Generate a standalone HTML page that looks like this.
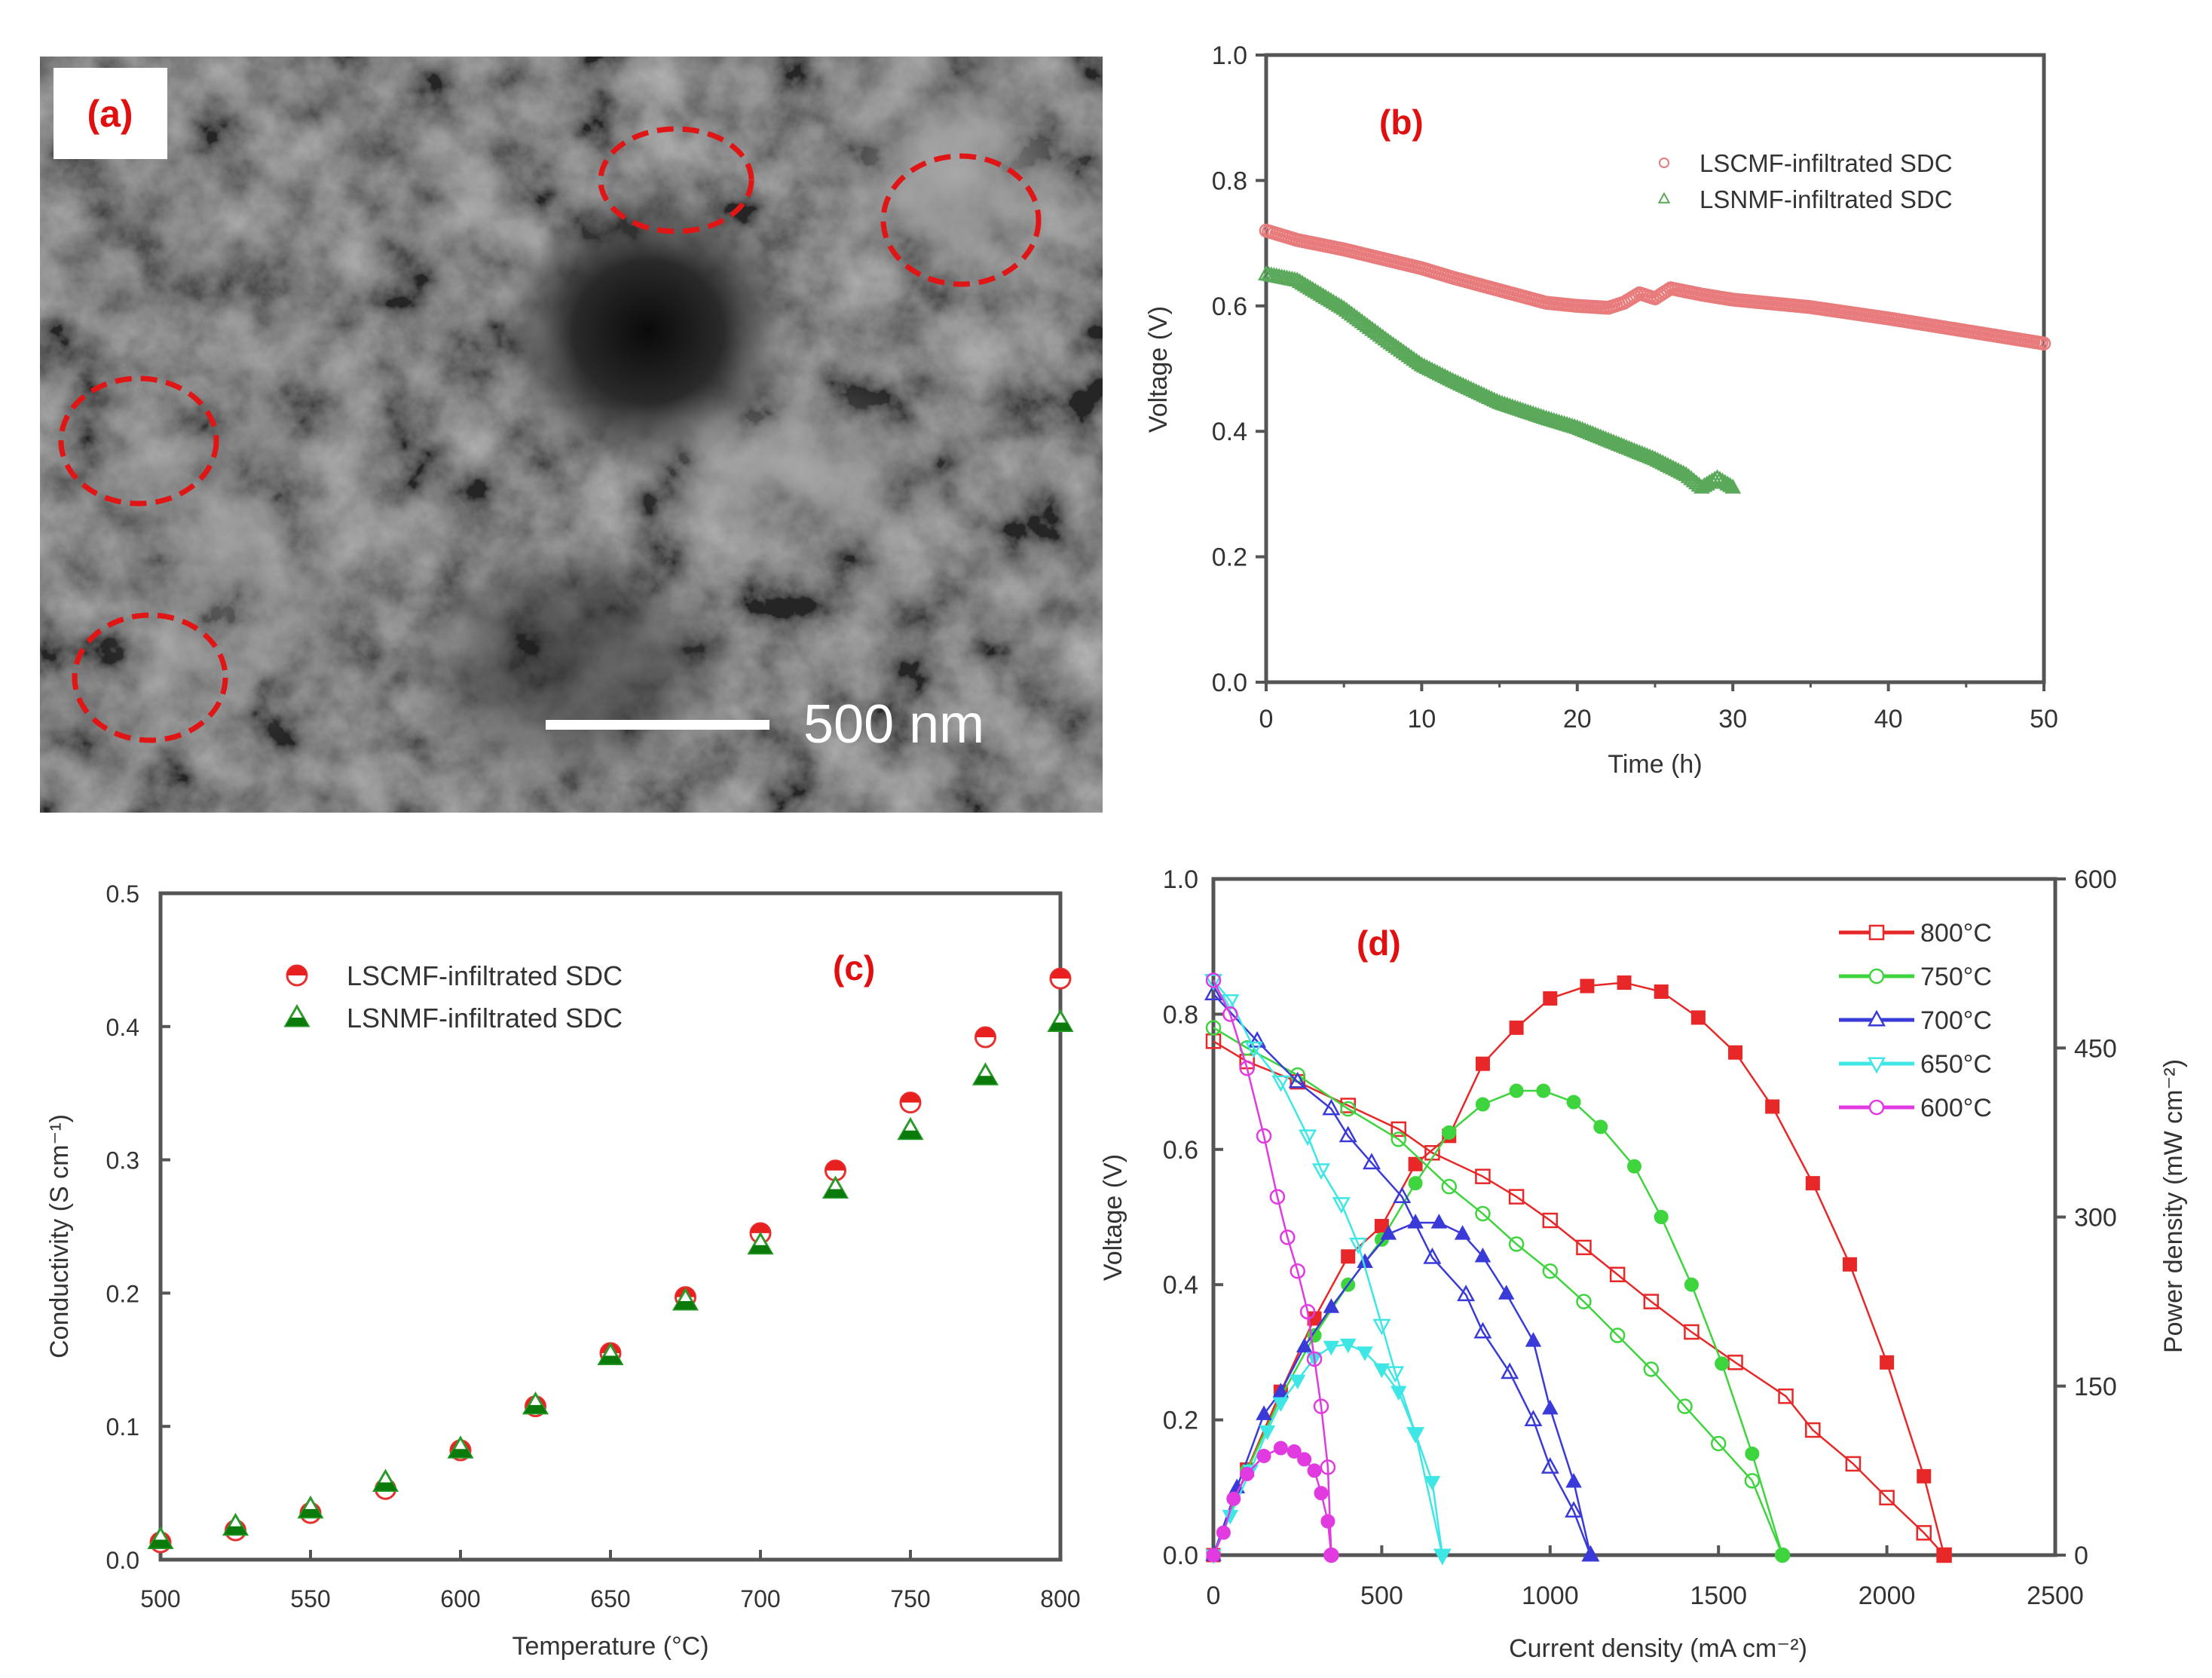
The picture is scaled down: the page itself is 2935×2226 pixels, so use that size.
<!DOCTYPE html>
<html><head><meta charset="utf-8"><style>
html,body{margin:0;padding:0;background:#fff}
svg{display:block;font-family:"Liberation Sans",Arial,sans-serif}
</style></head><body>
<svg id="fig" width="2935" height="2226" viewBox="0 0 2935 2226" xmlns="http://www.w3.org/2000/svg">
<defs>
<radialGradient id="hole" cx="0.5" cy="0.5" r="0.5"><stop offset="0" stop-color="#0a0a0a"/><stop offset="0.5" stop-color="#2a2a2a"/><stop offset="1" stop-color="#555" stop-opacity="0"/></radialGradient>
<radialGradient id="lite" cx="0.5" cy="0.5" r="0.5"><stop offset="0" stop-color="#a8a8a8"/><stop offset="1" stop-color="#999" stop-opacity="0"/></radialGradient>
<filter id="noise"><feTurbulence type="fractalNoise" baseFrequency="0.012" numOctaves="5" seed="7"/><feColorMatrix type="matrix" values="1.2 0 0 0 -0.28  1.2 0 0 0 -0.28  1.2 0 0 0 -0.28  0 0 0 0 1"/></filter>
<clipPath id="semclip"><rect x="53" y="75" width="1410" height="1003"/></clipPath>
</defs>
<g clip-path="url(#semclip)">
<rect x="53" y="75" width="1410" height="1003" fill="#5e5e5e"/>
<rect x="53" y="75" width="1410" height="1003" filter="url(#noise)" opacity="0.6"/>
<ellipse cx="860" cy="440" rx="200" ry="190" fill="url(#hole)"/>
<ellipse cx="760" cy="880" rx="230" ry="170" fill="url(#hole)" opacity="0.45"/>
<ellipse cx="1270" cy="230" rx="200" ry="160" fill="url(#lite)"/>
<ellipse cx="1050" cy="620" rx="220" ry="130" fill="url(#lite)" opacity="0.7"/>
<ellipse cx="300" cy="750" rx="180" ry="260" fill="url(#lite)" opacity="0.5"/>
</g>
<g><rect x="71" y="90" width="151" height="121" fill="#fff"/><text x="146" y="168" text-anchor="middle" font-size="50" font-weight="bold" fill="#e01010">(a)</text></g>
<g fill="none" stroke="#e01515" stroke-width="7" stroke-dasharray="22,12">
<ellipse cx="897" cy="239" rx="100" ry="68"/><ellipse cx="1275" cy="292" rx="103" ry="85"/><ellipse cx="184" cy="585" rx="103" ry="83"/><ellipse cx="199" cy="899" rx="100" ry="83"/>
</g>
<g><rect x="724" y="955" width="297" height="13" fill="#fff"/><text x="1066" y="985" font-size="72" fill="#fff">500 nm</text></g>
</svg>
<script>
// ---------- Panel (b) data ----------
const bTime = [0,2,5,8,10,12,15,18,20,22,23,24,25,26,28,30,35,40,45,50];
const bLSCMF = [0.72,0.705,0.69,0.672,0.66,0.645,0.625,0.605,0.6,0.597,0.605,0.62,0.612,0.628,0.618,0.61,0.598,0.58,0.56,0.54];
const bTime2 = [0,2,5,8,10,12,15,18,20,22,25,27,28,29,30];
const bLSNMF = [0.65,0.64,0.595,0.54,0.505,0.48,0.445,0.42,0.405,0.385,0.355,0.33,0.31,0.325,0.31];
const bXTicks = [0,10,20,30,40,50];
const bYTicks = [0.0,0.2,0.4,0.6,0.8,1.0];
// ---------- Panel (c) data ----------
const cTemp = [500,525,550,575,600,625,650,675,700,725,750,775,800];
const cLSCMF = [0.013,0.022,0.035,0.053,0.082,0.115,0.155,0.197,0.245,0.292,0.343,0.392,0.436];
const cLSNMF = [0.015,0.025,0.038,0.058,0.083,0.116,0.153,0.194,0.236,0.278,0.322,0.363,0.403];
const cXTicks = [500,550,600,650,700,750,800];
const cYTicks = [0.0,0.1,0.2,0.3,0.4,0.5];
// ---------- Panel (d) data ----------
const dNames = ['800°C','750°C','700°C','650°C','600°C'];
const dV_I = [
 [0,100,250,400,550,650,800,900,1000,1100,1200,1300,1420,1550,1700,1780,1900,2000,2110,2170],
 [0,100,250,400,550,700,800,900,1000,1100,1200,1300,1400,1500,1600,1690],
 [0,130,250,350,400,470,560,650,750,800,880,950,1000,1070,1120],
 [0,50,120,200,280,320,380,430,500,540,600,680],
 [0,50,100,150,190,220,250,280,300,320,340,350]];
const dV = [
 [0.76,0.73,0.70,0.665,0.63,0.595,0.56,0.53,0.495,0.455,0.415,0.375,0.33,0.285,0.235,0.185,0.135,0.085,0.033,0],
 [0.78,0.75,0.71,0.66,0.615,0.545,0.505,0.46,0.42,0.375,0.325,0.275,0.22,0.165,0.11,0],
 [0.83,0.76,0.70,0.66,0.62,0.58,0.53,0.44,0.385,0.33,0.27,0.2,0.13,0.065,0],
 [0.85,0.82,0.75,0.70,0.62,0.57,0.52,0.46,0.34,0.27,0.18,0],
 [0.85,0.80,0.72,0.62,0.53,0.47,0.42,0.36,0.29,0.22,0.13,0]];
const dP_I = [
 [0,100,200,300,400,500,600,700,800,900,1000,1110,1220,1330,1440,1550,1660,1780,1890,2000,2110,2170],
 [0,100,200,300,400,500,600,700,800,900,980,1070,1150,1250,1330,1420,1510,1600,1690],
 [0,70,150,200,270,350,450,520,600,670,740,800,870,950,1000,1070,1120],
 [0,50,110,160,200,250,300,350,400,450,500,550,600,650,680],
 [0,30,60,100,150,200,240,270,300,320,340,350]];
const dP = [
 [0,76,145,210,265,292,347,372,436,468,494,505,508,500,477,446,398,330,258,171,70,0],
 [0,75,140,195,240,280,330,375,400,412,412,402,380,345,300,240,170,90,0],
 [0,60,125,145,185,220,260,285,295,295,285,265,232,190,130,65,0],
 [0,35,75,110,135,155,175,185,187,180,165,145,108,65,0],
 [0,20,50,72,88,95,92,85,75,55,30,0]];
const dXTicks = [0,500,1000,1500,2000,2500];
const dYTicks = [0.0,0.2,0.4,0.6,0.8,1.0];
const dY2Ticks = [0,150,300,450,600];

const NS='http://www.w3.org/2000/svg';
const svg=document.getElementById('fig');
function mk(tag,attrs,parent){const e=document.createElementNS(NS,tag);for(const k in attrs)e.setAttribute(k,attrs[k]);(parent||svg).appendChild(e);return e;}
function txt(x,y,s,size,parent,extra){const t=mk('text',Object.assign({x:x,y:y,'font-size':size,fill:'#333'},extra||{}),parent);t.textContent=s;return t;}
function lin(d0,d1,p0,p1){return v=>p0+(v-d0)/(d1-d0)*(p1-p0);}
function marker(g,shape,x,y,r,color,fill,sw){
 let e;
 if(shape==='circle') e=mk('circle',{cx:x,cy:y,r:r},g);
 else if(shape==='square') e=mk('rect',{x:x-r,y:y-r,width:2*r,height:2*r},g);
 else if(shape==='up') e=mk('polygon',{points:`${x},${y-r*1.2} ${x-r*1.1},${y+r*0.8} ${x+r*1.1},${y+r*0.8}`},g);
 else if(shape==='down') e=mk('polygon',{points:`${x},${y+r*1.2} ${x-r*1.1},${y-r*0.8} ${x+r*1.1},${y-r*0.8}`},g);
 e.setAttribute('fill',fill);e.setAttribute('stroke',color);e.setAttribute('stroke-width',sw||2.5);
 return e;
}
function frame(g,x0,y0,x1,y1){mk('rect',{x:x0,y:y0,width:x1-x0,height:y1-y0,fill:'none',stroke:'#555','stroke-width':5},g);}

// ===== Panel b =====
(function(){
 const g=mk('g',{});
 
 
 const X=lin(0,50,1680,2712), Y=lin(0,1,905,73);
 frame(g,1680,73,2712,905);
 bXTicks.forEach(v=>{mk('line',{x1:X(v),x2:X(v),y1:905,y2:917,stroke:'#555','stroke-width':4},g);
  const t=txt(X(v),965,String(v),34,g,{'text-anchor':'middle'});});
 for(let v=5;v<50;v+=10) mk('line',{x1:X(v),x2:X(v),y1:905,y2:912,stroke:'#555','stroke-width':3},g);
 bYTicks.forEach(v=>{mk('line',{x1:1666,x2:1680,y1:Y(v),y2:Y(v),stroke:'#555','stroke-width':4},g);
  const t=txt(1655,Y(v)+12,v.toFixed(1),34,g,{'text-anchor':'end'});});
 const xt=txt(2196,1025,'Time (h)',34,g,{'text-anchor':'middle'});
 
 const yt=txt(0,0,'Voltage (V)',34,g,{'text-anchor':'middle',transform:'translate(1548,490) rotate(-90)'});
 
 const lb=txt(1830,178,'(b)',46,g,{fill:'#e01010','font-weight':'bold'});
 
 function series(xs,ys,color,shape,name){
  const s=mk('g',{},g);
  
  
  for(let i=0;i<xs.length-1;i++){
   const n=Math.max(2,Math.round((xs[i+1]-xs[i])*6));
   for(let k=0;k<n;k++){const f=k/n;const x=xs[i]+f*(xs[i+1]-xs[i]);const y=ys[i]+f*(ys[i+1]-ys[i]);
    marker(s,shape,X(x),Y(y),8,color,'none',2.5);}
  }
  marker(s,shape,X(xs[xs.length-1]),Y(ys[ys.length-1]),8,color,'none',2.5);
 }
 series(bTime,bLSCMF,'#e87b7b','circle','series-lscmf');
 series(bTime2,bLSNMF,'#5aa85a','up','series-lsnmf');
 const lg=mk('g',{},g);
 
 
 marker(lg,'circle',2208,216,6,'#e87b7b','none',2);
 txt(2255,228,'LSCMF-infiltrated SDC',33,lg);
 marker(lg,'up',2208,264,6,'#5aa85a','none',2);
 txt(2255,276,'LSNMF-infiltrated SDC',33,lg);
})();

// ===== Panel c =====
(function(){
 const g=mk('g',{});
 
 
 const X=lin(500,800,213,1407), Y=lin(0,0.5,2069,1185);
 frame(g,213,1185,1407,2069);
 cXTicks.forEach(v=>{mk('line',{x1:X(v),x2:X(v),y1:2069,y2:2056,stroke:'#555','stroke-width':4},g);
  const t=txt(X(v),2132,String(v),32,g,{'text-anchor':'middle'});});
 cYTicks.forEach(v=>{mk('line',{x1:213,x2:226,y1:Y(v),y2:Y(v),stroke:'#555','stroke-width':4},g);
  const t=txt(185,Y(v)+12,v.toFixed(1),32,g,{'text-anchor':'end'});});
 const xt=txt(810,2195,'Temperature (°C)',34,g,{'text-anchor':'middle'});
 
 const yt=txt(0,0,'Conductivity (S cm⁻¹)',34,g,{'text-anchor':'middle',transform:'translate(90,1640) rotate(-90)'});
 
 const lb=txt(1105,1300,'(c)',46,g,{fill:'#e01010','font-weight':'bold'});
 
 function halfCircle(p,x,y){
  const c=mk('circle',{cx:x,cy:y,r:13,fill:'#fff',stroke:'#e83030','stroke-width':3},p);
  mk('path',{d:`M${x-13},${y} A13,13 0 0 1 ${x+13},${y} Z`,fill:'#e82020'},p);return c;}
 function halfTri(p,x,y){
  mk('polygon',{points:`${x},${y-15} ${x-15},${y+11} ${x+15},${y+11}`,fill:'#fff',stroke:'#2a9a2a','stroke-width':3},p);
  mk('polygon',{points:`${x-9},${y} ${x+9},${y} ${x+15},${y+11} ${x-15},${y+11}`,fill:'#0a7a0a'},p);}
 const s1=mk('g',{},g);
 
 
 cTemp.forEach((t,i)=>halfCircle(s1,X(t),Y(cLSCMF[i])));
 const s2=mk('g',{},g);
 
 
 cTemp.forEach((t,i)=>halfTri(s2,X(t),Y(cLSNMF[i])));
 const lg=mk('g',{},g);
 
 
 halfCircle(lg,394,1294);
 txt(460,1307,'LSCMF-infiltrated SDC',36,lg);
 halfTri(lg,394,1350);
 txt(460,1363,'LSNMF-infiltrated SDC',36,lg);
})();

// ===== Panel d =====
(function(){
 const g=mk('g',{});
 
 
 const X=lin(0,2500,1610,2727), Y=lin(0,1,2063,1166), Y2=lin(0,600,2063,1166);
 frame(g,1610,1166,2727,2063);
 dXTicks.forEach(v=>{mk('line',{x1:X(v),x2:X(v),y1:2063,y2:2050,stroke:'#555','stroke-width':4},g);
  const t=txt(X(v),2128,String(v),34,g,{'text-anchor':'middle'});});
 dYTicks.forEach(v=>{mk('line',{x1:1610,x2:1623,y1:Y(v),y2:Y(v),stroke:'#555','stroke-width':4},g);
  const t=txt(1590,Y(v)+12,v.toFixed(1),34,g,{'text-anchor':'end'});});
 dY2Ticks.forEach(v=>{mk('line',{x1:2727,x2:2741,y1:Y2(v),y2:Y2(v),stroke:'#555','stroke-width':4},g);
  const t=txt(2752,Y2(v)+12,String(v),34,g,{'text-anchor':'start'});});
 const xt=txt(2200,2198,'Current density (mA cm⁻²)',34,g,{'text-anchor':'middle'});
 
 const yt=txt(0,0,'Voltage (V)',34,g,{'text-anchor':'middle',transform:'translate(1488,1615) rotate(-90)'});
 
 const y2t=txt(0,0,'Power density (mW cm⁻²)',34,g,{'text-anchor':'middle',transform:'translate(2895,1600) rotate(-90)'});
 
 const lb=txt(1800,1267,'(d)',46,g,{fill:'#e01010','font-weight':'bold'});
 
 const colors=['#e82828','#3ed43e','#3a3ad8','#3ee6e6','#e03ae0'];
 const shapes=['square','circle','up','down','circle'];
 for(let s=0;s<5;s++){
  const sv=mk('g',{},g);
  
  
  mk('polyline',{points:dV_I[s].map((v,i)=>X(v)+','+Y(dV[s][i])).join(' '),fill:'none',stroke:colors[s],'stroke-width':2.5},sv);
  dV_I[s].forEach((v,i)=>marker(sv,shapes[s],X(v),Y(dV[s][i]),9,colors[s],'none',2.5));
  const sp=mk('g',{},g);
  
  
  mk('polyline',{points:dP_I[s].map((v,i)=>X(v)+','+Y2(dP[s][i])).join(' '),fill:'none',stroke:colors[s],'stroke-width':2.5},sp);
  dP_I[s].forEach((v,i)=>marker(sp,shapes[s],X(v),Y2(dP[s][i]),9,colors[s],colors[s],1));
 }
 const lg=mk('g',{},g);
 
 
 for(let s=0;s<5;s++){
  const y=1237+s*58;
  const e=mk('g',{},lg);
  
  
  mk('line',{x1:2440,x2:2540,y1:y,y2:y,stroke:colors[s],'stroke-width':5},e);
  marker(e,shapes[s],2490,y,9,colors[s],'#fff',2.5);
  txt(2548,y+12,dNames[s],34,e);
 }
})();
</script>
</body></html>
